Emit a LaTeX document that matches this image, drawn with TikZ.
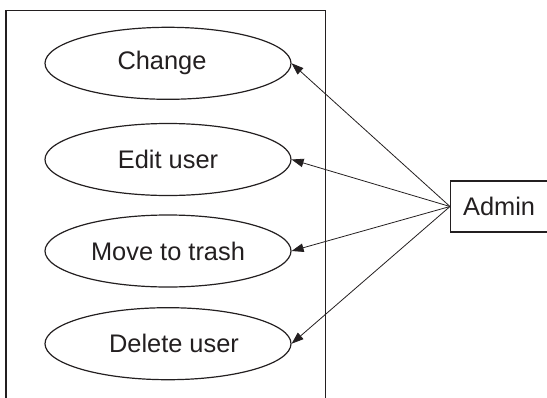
\documentclass[tikz,border=0pt]{standalone}
\usepackage{fontspec}
\setmainfont{Liberation Sans}
\usetikzlibrary{arrows.meta,shapes.geometric}
\definecolor{ink}{HTML}{231F20}
\begin{document}
\begin{tikzpicture}[x=1pt,y=-1pt,
  usecase/.style={draw=ink,line width=1.2pt,ellipse,minimum width=246pt,minimum height=72pt,inner sep=0pt,font=\fontsize{25.4}{30}\selectfont,text=ink},
  actor/.style={draw=ink,line width=1.2pt,rectangle,minimum width=100pt,minimum height=51pt,inner sep=0pt,font=\fontsize{25.4}{30}\selectfont,text=ink},
  assoc/.style={draw=ink,line width=0.8pt,-{Triangle[length=12pt,width=8.5pt]}}]
\useasboundingbox (0,0) rectangle (547,397);
\draw[ink,line width=1.3pt] (6,420) -- (6,10.7) -- (325.5,10.7) -- (325.5,420);
\node[usecase] (change) at (168,63.3) {Change\hspace*{12pt}};
\node[usecase] (edit) at (168,159.5) {Edit user};
\node[usecase] (trash) at (168,251) {Move to trash};
\node[usecase] (delete) at (168,343.7) {\hspace*{12pt}Delete user};
\node[actor,anchor=west] (admin) at (450,206.5) {\hspace*{-3pt}Admin};
\draw[assoc] (admin.west) -- (change.east);
\draw[assoc] (admin.west) -- (edit.east);
\draw[assoc] (admin.west) -- (trash.east);
\draw[assoc] (admin.west) -- (delete.east);
\end{tikzpicture}
\end{document}
